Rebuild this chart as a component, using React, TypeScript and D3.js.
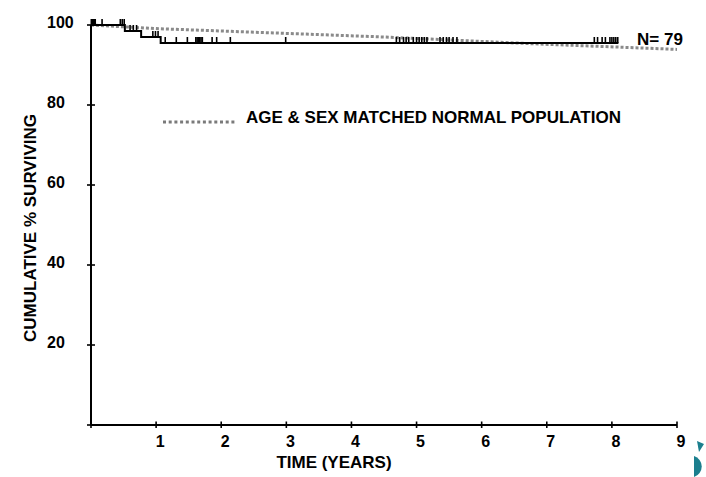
import React from "react";
import * as d3 from "d3";

const yearTicks = [0, 1, 2, 3, 4, 5, 6, 7, 8, 9];
const yearLabels = ["1", "2", "3", "4", "5", "6", "7", "8", "9"];
const pctTicks = [0, 20, 40, 60, 80, 100];
const pctLabels = ["20", "40", "60", "80", "100"];

// Kaplan-Meier steps (time in years, cumulative % surviving)
const kmTimes = [0, 0.52, 0.77, 1.07, 8.1];
const kmSurvival = [100, 98.5, 97, 95.5, 95.5];

// censored observations (years)
const censorTimes = [
  0.005, 0.015, 0.025, 0.035, 0.045, 0.055, 0.065, 0.17, 0.45, 0.48, 0.51,
  0.6, 0.65, 0.7,
  0.95, 0.99, 1.03,
  1.14, 1.31, 1.48, 1.61, 1.63, 1.65, 1.67, 1.69, 1.71, 1.86, 1.93, 2.14, 2.99,
  4.69, 4.74, 4.8, 4.84, 4.88, 4.95, 5.0, 5.04, 5.08, 5.12, 5.16,
  5.36, 5.41, 5.46, 5.5, 5.56, 5.62,
  7.73, 7.78, 7.85, 7.9, 7.97, 8.0, 8.03, 8.06, 8.09,
];

// age & sex matched normal population
const normalTimes = [0, 1, 2, 3, 4.5, 6.8, 9];
const normalSurvival = [100, 99.1, 98.5, 97.9, 97.0, 95.3, 93.9];

const W = 706;
const H = 477;

export default function App() {
  const x = d3.scaleLinear().domain([0, 9]).range([91, 677]);
  const y = d3.scaleLinear().domain([0, 100]).range([425, 25]);

  const kmData = kmTimes.map((t, i) => [t, kmSurvival[i]] as [number, number]);
  const normData = normalTimes.map((t, i) => [t, normalSurvival[i]] as [number, number]);

  const stepLine = d3
    .line<[number, number]>()
    .x((d) => x(d[0]))
    .y((d) => y(d[1]))
    .curve(d3.curveStepAfter);
  const normLine = d3
    .line<[number, number]>()
    .x((d) => x(d[0]))
    .y((d) => y(d[1]));

  const survAt = (t: number) => {
    let s = kmSurvival[0];
    for (let i = 0; i < kmTimes.length; i++) if (kmTimes[i] <= t) s = kmSurvival[i];
    return s;
  };

  const font = "'Liberation Sans', Arial, Helvetica, sans-serif";

  return (
    <svg
      width={W}
      height={H}
      style={{ position: "absolute", left: 0, top: 0, background: "#fff" }}
      fontFamily={font}
      fontWeight="bold"
    >
      <rect x={0} y={0} width={W} height={H} fill="#fff" />
      {/* normal population dotted line */}
      <path
        d={normLine(normData) || ""}
        fill="none"
        stroke="#8a8a8a"
        strokeWidth={3}
        strokeDasharray="3 2"
      />
      {/* KM curve */}
      <path d={stepLine(kmData) || ""} fill="none" stroke="#000" strokeWidth={2} />
      {censorTimes.map((t, i) => (
        <line
          key={"c" + i}
          x1={x(t)}
          x2={x(t)}
          y1={y(survAt(t))}
          y2={y(survAt(t)) - 6}
          stroke="#000"
          strokeWidth={1.6}
        />
      ))}
      {/* axes */}
      <line x1={x(0)} x2={x(9)} y1={y(0)} y2={y(0)} stroke="#000" strokeWidth={2} />
      <line x1={x(0)} x2={x(0)} y1={y(0)} y2={y(100)} stroke="#000" strokeWidth={2} />
      {yearTicks.map((t) => (
        <line key={"xt" + t} x1={x(t)} x2={x(t)} y1={y(0) - 3.5} y2={y(0) + 3} stroke="#000" strokeWidth={1.6} />
      ))}
      {pctTicks.map((p) => (
        <line key={"yt" + p} x1={x(0) - 4} x2={x(0) + 4} y1={y(p)} y2={y(p)} stroke="#000" strokeWidth={1.6} />
      ))}
      {yearLabels.map((l) => (
        <text key={"xl" + l} x={x(+l) + 4} y={446.5} fontSize={16} textAnchor="middle" fill="#000">
          {l}
        </text>
      ))}
      {pctLabels.map((l) => (
        <text key={"yl" + l} x={47} y={y(+l) + 2.5} fontSize={16} textAnchor="start" fill="#000">
          {l}
        </text>
      ))}
      <text x={334} y={468} fontSize={17} textAnchor="middle" fill="#000">
        TIME (YEARS)
      </text>
      <text
        transform={`translate(36,228) rotate(-90)`}
        fontSize={17}
        textAnchor="middle"
        fill="#000"
      >
        CUMULATIVE % SURVIVING
      </text>
      {/* legend */}
      <line x1={163} x2={237} y1={122} y2={122} stroke="#7a7a7a" strokeWidth={3} strokeDasharray="3 2.7" />
      <text x={246} y={123} fontSize={17} fill="#000">
        AGE &amp; SEX MATCHED NORMAL POPULATION
      </text>
      <text x={637} y={45} fontSize={17} fill="#000">
        N= 79
      </text>
      {/* partial teal logo at corner */}
      <path d="M697,441 L704,444 L699,452 Z" fill="#1b7f8e" />
      <path d="M694,456 A11,11 0 0 1 694,477 Z" fill="#1b7f8e" />
    </svg>
  );
}
